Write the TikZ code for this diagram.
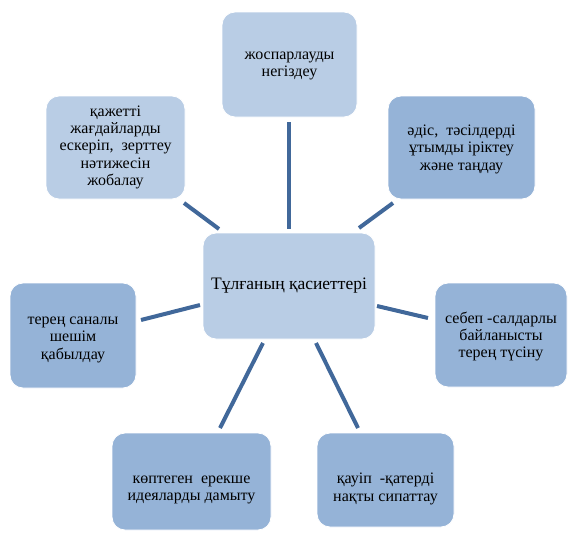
\documentclass[tikz,border=0pt]{standalone}
\usepackage{fontspec}
\setmainfont{Liberation Serif}
\definecolor{lightbox}{HTML}{B9CDE5}
\definecolor{darkbox}{HTML}{95B3D7}
\definecolor{spoke}{HTML}{41689A}
\newcommand{\boxtext}[2]{\raisebox{#1}[\height][\depth]{\begin{tabular}{@{}c@{}}#2\end{tabular}}}
\tikzset{
  box/.style={rounded corners=13pt, draw=white, line width=0.8pt, inner sep=0pt, align=center,
    font=\fontsize{16}{17.3}\selectfont, text=black},
  lbox/.style={box, fill=lightbox},
  dbox/.style={box, fill=darkbox},
  spk/.style={draw=spoke, line width=4pt}
}
\begin{document}
\begin{tikzpicture}[x=1pt,y=-1pt]
\useasboundingbox (0,0) rectangle (568,533);
\node[lbox, minimum width=135pt, minimum height=105pt] (top) at (289.5,64.5) {\boxtext{0pt}{жоспарлауды\\негіздеу}};
\node[lbox, minimum width=139pt, minimum height=103pt] (ul) at (115.5,147.5) {\boxtext{0pt}{қажетті\\жағдайларды\\ескеріп,\ \ зерттеу\\нәтижесін\\жобалау}};
\node[dbox, minimum width=147pt, minimum height=103pt] (ur) at (461.5,147.5) {\boxtext{-2pt}{әдіс,\ \ тәсілдерді\\ұтымды іріктеу\\және таңдау}};
\node[lbox, minimum width=172pt, minimum height=106pt, font=\fontsize{17.5}{20}\selectfont] (c) at (289,286) {Тұлғаның қасиеттері};
\node[dbox, minimum width=126pt, minimum height=105pt] (l) at (73,335.5) {\boxtext{-3pt}{терең саналы\\шешім\\қабылдау}};
\node[dbox, minimum width=132pt, minimum height=104pt] (r) at (501,335) {\boxtext{-2pt}{себеп -салдарлы\\байланысты\\терең түсіну}};
\node[dbox, minimum width=159pt, minimum height=97pt] (bl) at (191.5,481.5) {\boxtext{-7pt}{көптеген\ \ ерекше\\идеяларды дамыту}};
\node[dbox, minimum width=137pt, minimum height=94pt] (br) at (385.5,480) {\boxtext{-9pt}{қауіп\ \ -қатерді\\нақты сипаттау}};
% spoke ends
\coordinate (t1) at (289,122); \coordinate (t2) at (289,229);
\coordinate (ul1) at (184,203); \coordinate (ul2) at (219,229);
\coordinate (ur1) at (393,203); \coordinate (ur2) at (359,228);
\coordinate (l1) at (141,320); \coordinate (l2) at (200,305);
\coordinate (r1) at (377,306); \coordinate (r2) at (428,318);
\coordinate (bl1) at (263,343); \coordinate (bl2) at (220,428);
\coordinate (br1) at (316,343); \coordinate (br2) at (358,428);
\draw[spk] (t1) -- (t2);
\draw[spk] (ul1) -- (ul2);
\draw[spk] (ur1) -- (ur2);
\draw[spk] (l1) -- (l2);
\draw[spk] (r1) -- (r2);
\draw[spk] (bl1) -- (bl2);
\draw[spk] (br1) -- (br2);
\end{tikzpicture}
\end{document}
